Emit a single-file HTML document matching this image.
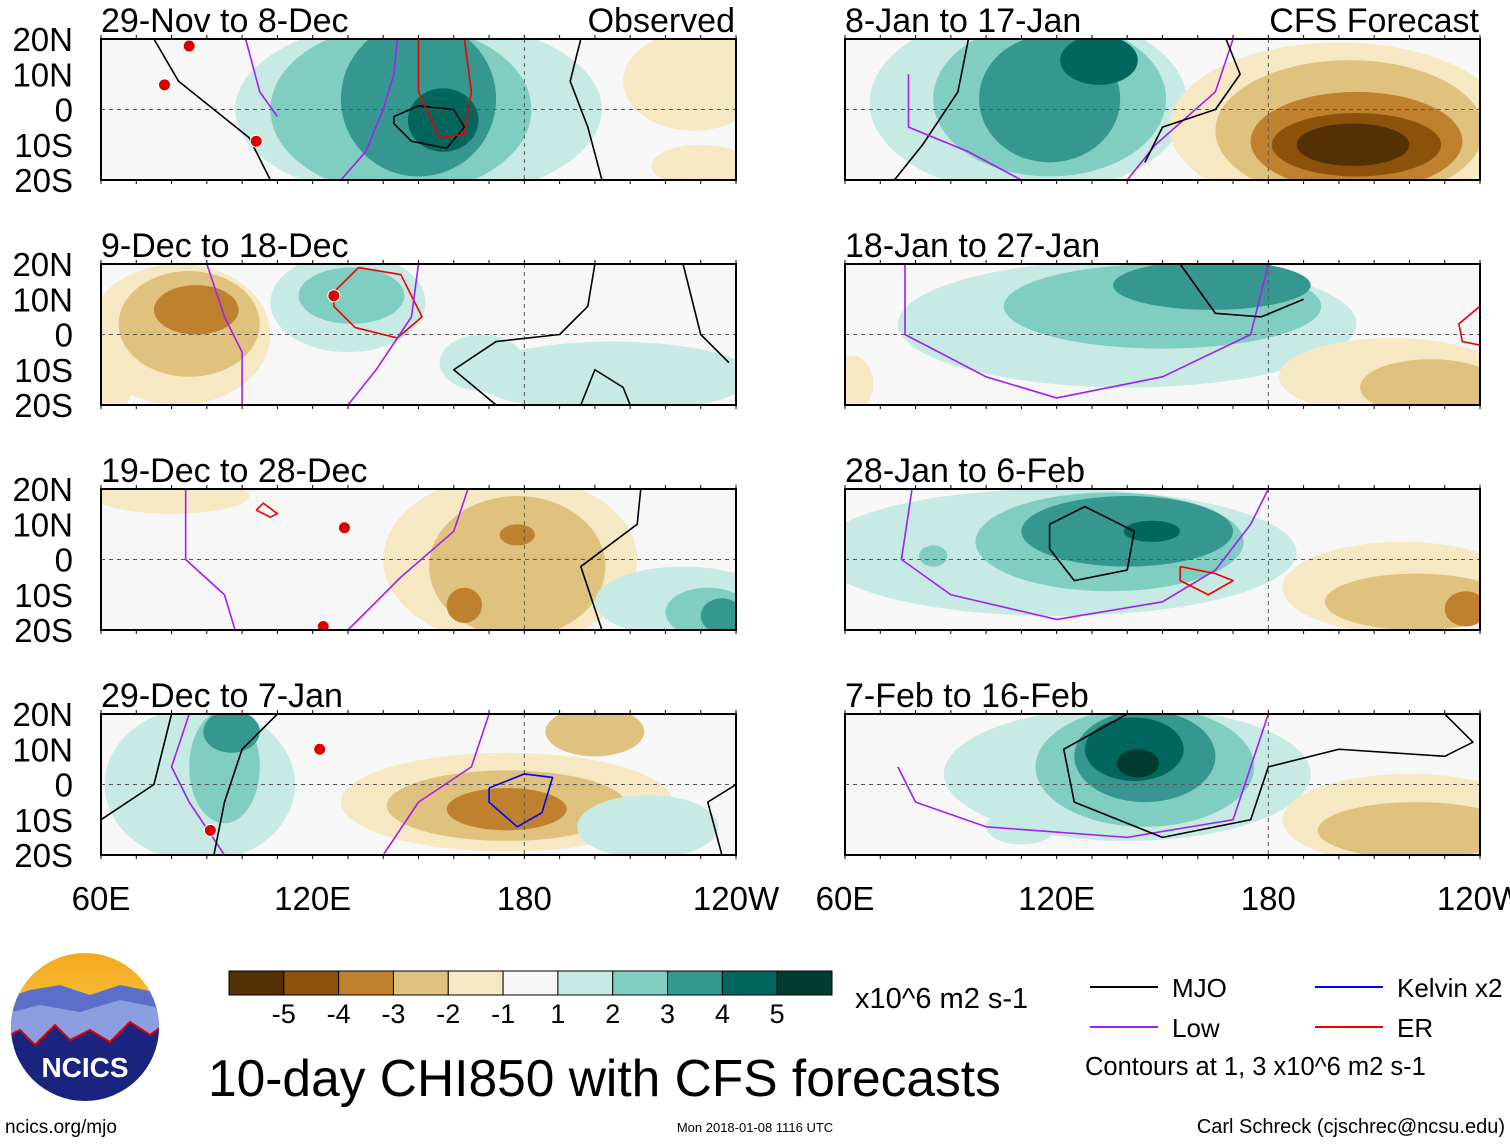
<!DOCTYPE html>
<html><head><meta charset="utf-8"><style>
body{margin:0;background:#fff;}
svg text{font-family:"Liberation Sans",sans-serif;}
</style></head><body>
<svg id="chart" width="1510" height="1142" viewBox="0 0 1510 1142" xmlns="http://www.w3.org/2000/svg">
<defs>
<linearGradient id="sky" x1="0" y1="0" x2="0" y2="1"><stop offset="0" stop-color="#f4a81c"/><stop offset="1" stop-color="#fde36a"/></linearGradient>
</defs>
<g id="panels"></g>
<g id="legend"></g>
</svg>
<script>
const NS='http://www.w3.org/2000/svg';
const panelTitles=['29-Nov to 8-Dec','8-Jan to 17-Jan','9-Dec to 18-Dec','18-Jan to 27-Jan','19-Dec to 28-Dec','28-Jan to 6-Feb','29-Dec to 7-Jan','7-Feb to 16-Feb'];
const levels=[-5,-4,-3,-2,-1,1,2,3,4,5];
const levelColors=['#543005','#8c510a','#bf812d','#dfc27d','#f6e8c3','#c7eae5','#80cdc1','#35978f','#01665e','#003c30'];
const latTicks=['20N','10N','0','10S','20S'];
const lonTicks=['60E','120E','180','120W'];
// blobs: [lon, lat, radiusLon, radiusLat, level]
const blobsP0=[[150,0,52,26,1],[145,0,37,24,2],[150,3,22,22,3],[157,-3,10,9,4],[228,8,20,14,-1],[230,-16,14,6,-1]];
const blobsP1=[[112,2,45,26,1],[118,3,33,22,2],[118,3,20,18,3],[132,14,11,7,4],[200,-5,48,24,-1],[203,-6,38,20,-2],[205,-9,30,14,-3],[205,-10,24,9,-4],[204,-10,16,6,-5]];
const blobsP2=[[82,0,26,20,-1],[85,3,20,15,-2],[87,7,12,7,-3],[130,9,22,14,1],[131,11,15,8,2],[205,-12,40,10,1],[168,-8,12,8,1],[63,-14,6,8,-1]];
const blobsP3=[[140,3,65,18,1],[150,8,45,12,2],[164,14,28,7,3],[215,-12,32,11,-1],[226,-15,20,8,-2],[62,-14,6,8,-1]];
const blobsP4=[[176,0,36,24,-1],[178,-2,25,20,-2],[178,7,5,3,-3],[163,-13,5,5,-3],[80,18,22,5,-1],[225,-12,25,10,1],[232,-15,12,7,2],[236,-16,6,5,3]];
const blobsP5=[[120,2,68,18,1],[135,5,38,14,2],[140,8,30,10,3],[147,8,8,3,4],[85,1,4,3,2],[218,-8,34,13,-1],[222,-12,26,8,-2],[236,-14,6,5,-3]];
const blobsP6=[[88,0,27,22,1],[95,5,10,16,2],[97,15,8,6,3],[95,0,4,3,2],[175,-5,47,14,-1],[175,-6,34,10,-2],[175,-7,17,6,-3],[200,15,14,7,-2],[215,-12,20,9,1]];
const blobsP7=[[140,3,52,19,1],[145,5,31,17,2],[145,8,20,13,3],[142,10,14,9,4],[143,6,6,4,5],[220,-10,36,13,-1],[222,-13,28,8,-2],[110,-12,10,5,1]];
const blobSets=[blobsP0,blobsP1,blobsP2,blobsP3,blobsP4,blobsP5,blobsP6,blobsP7];
// contour lines: [color, [[lon,lat],...]]
const linesP0=[['#000',[[75,20],[82,8],[92,0],[102,-8],[108,-20]]],['#000',[[143,-2],[150,1],[160,0],[163,-5],[158,-11],[148,-9],[143,-4],[143,-2]]],['#a020f0',[[144,20],[143,10],[140,0],[135,-12],[128,-20]]],['#a020f0',[[101,20],[105,5],[110,-2]]],['#e00',[[150,20],[150,5],[156,-8],[163,-7],[165,5],[163,20]]],['#000',[[196,20],[193,8],[198,-5],[202,-20]]]];
const linesP1=[['#000',[[95,20],[92,5],[82,-10],[74,-20]]],['#a020f0',[[78,10],[78,-5],[95,-12],[110,-20]]],['#a020f0',[[170,20],[165,5],[148,-10],[140,-20]]],['#000',[[168,20],[172,10],[165,0],[150,-5],[145,-15]]]];
const linesP2=[['#a020f0',[[90,20],[95,5],[100,-5],[100,-20]]],['#e00',[[126,12],[133,19],[145,17],[151,5],[144,-1],[132,2],[126,8],[126,12]]],['#a020f0',[[150,20],[148,5],[138,-10],[130,-20]]],['#000',[[200,20],[198,8],[190,0],[172,-2],[160,-10],[172,-20]]],['#000',[[196,-20],[200,-10],[208,-15],[210,-20]]],['#000',[[225,20],[230,0],[238,-8]]]];
const linesP3=[['#a020f0',[[77,20],[77,0],[100,-12],[120,-18],[150,-12],[175,0],[180,20]]],['#000',[[155,20],[165,6],[178,5],[190,10]]],['#e00',[[240,8],[234,3],[235,-2],[240,-3]]]];
const linesP4=[['#a020f0',[[84,20],[84,0],[95,-10],[98,-20]]],['#e00',[[104,14],[108,12],[110,13],[106,16],[104,14]]],['#a020f0',[[164,20],[160,8],[145,-5],[130,-20]]],['#000',[[213,20],[212,10],[196,-2],[202,-20]]]];
const linesP5=[['#a020f0',[[79,20],[76,0],[90,-10],[120,-17],[150,-12],[165,-3],[175,10],[180,20]]],['#000',[[118,10],[128,15],[142,8],[140,-3],[125,-6],[118,3],[118,10]]],['#e00',[[155,-2],[165,-4],[170,-6],[163,-10],[155,-6],[155,-2]]]];
const linesP6=[['#000',[[60,-10],[75,0],[80,20]]],['#a020f0',[[85,20],[80,5],[85,-5],[95,-20]]],['#000',[[92,-20],[95,-5],[100,10],[110,20]]],['#a020f0',[[170,20],[165,5],[150,-5],[140,-20]]],['#00f',[[170,-1],[180,3],[188,2],[185,-8],[178,-12],[170,-5],[170,-1]]],['#000',[[240,0],[232,-5],[236,-20]]]];
const linesP7=[['#a020f0',[[75,5],[80,-5],[100,-12],[140,-15],[170,-10],[175,5],[180,20]]],['#000',[[140,20],[122,10],[125,-5],[150,-15],[175,-10],[180,5],[200,10],[230,8],[238,12],[230,20]]]];
const lineSets=[linesP0,linesP1,linesP2,linesP3,linesP4,linesP5,linesP6,linesP7];
// tropical cyclone markers [lon,lat]
const tcMarks=[[[85,18],[78,7],[104,-9]],[],[[126,11]],[],[[129,9],[123,-19]],[],[[91,-13],[122,10]],[]];

const PW=635,PH=141;
const colX=[101,845], rowY=[39,264,489,714];
function mk(tag,attrs,parent){const e=document.createElementNS(NS,tag);for(const k in attrs)e.setAttribute(k,attrs[k]);if(parent)parent.appendChild(e);return e;}
function colorFor(l){return levelColors[levels.indexOf(l)];}
const root=document.getElementById('panels');
for(let p=0;p<8;p++){
  const x0=colX[p%2], y0=rowY[Math.floor(p/2)];
  const xs=lon=>x0+(lon-60)/180*PW;
  const ys=lat=>y0+(20-lat)/40*PH;
  const g=mk('g',{},root);
  
  
  const cp=mk('clipPath',{id:'cp'+p},g);mk('rect',{x:x0,y:y0,width:PW,height:PH},cp);
  mk('rect',{x:x0,y:y0,width:PW,height:PH,fill:'#f7f7f7'},g);
  const fg=mk('g',{'clip-path':'url(#cp'+p+')'},g);
  blobSets[p].forEach(b=>{
    const e=mk('ellipse',{cx:xs(b[0]),cy:ys(b[1]),rx:b[2]/180*PW,ry:b[3]/40*PH,fill:colorFor(b[4])},fg);
    
    
  });
  mk('line',{x1:x0,y1:ys(0),x2:x0+PW,y2:ys(0),stroke:'#555','stroke-dasharray':'4,4','stroke-width':1},fg);
  mk('line',{x1:xs(180),y1:y0,x2:xs(180),y2:y0+PH,stroke:'#555','stroke-dasharray':'4,4','stroke-width':1},fg);
  lineSets[p].forEach(l=>{
    const pl=mk('polyline',{points:l[1].map(q=>xs(q[0])+','+ys(q[1])).join(' '),fill:'none',stroke:l[0],'stroke-width':1.6,'stroke-linejoin':'round'},fg);
    
    
  });
  tcMarks[p].forEach(t=>{
    const c=mk('circle',{cx:xs(t[0]),cy:ys(t[1]),r:6,fill:'#d00',stroke:'#fff','stroke-width':1},fg);
    
    
  });
  mk('rect',{x:x0,y:y0,width:PW,height:PH,fill:'none',stroke:'#000','stroke-width':2},g);
  for(let lon=60;lon<=240;lon+=10){mk('line',{x1:xs(lon),y1:y0,x2:xs(lon),y2:y0-4,stroke:'#000'},g);mk('line',{x1:xs(lon),y1:y0+PH,x2:xs(lon),y2:y0+PH+4,stroke:'#000'},g);}
  const t=mk('text',{x:x0,y:y0-7,'font-size':34},g);t.textContent=panelTitles[p];
  
  
  if(p===0||p===1){const r=mk('text',{x:x0+PW-1,y:y0-7,'font-size':34,'text-anchor':'end'},g);r.textContent=p===0?'Observed':'CFS Forecast';
    
    }
  if(p%2===0){latTicks.forEach((s,i)=>{const tt=mk('text',{x:73,y:y0+i*PH/4+12,'font-size':33,'text-anchor':'end'},g);tt.textContent=s;
    
    });}
  if(p>=6){lonTicks.forEach((s,i)=>{const tt=mk('text',{x:x0+i*PW/3,y:910,'font-size':33,'text-anchor':'middle'},g);tt.textContent=s;
    
    });}
}
// legend / colorbar
const lg=document.getElementById('legend');
const cbX=229,cbW=603/11;
const cbColors=['#543005','#8c510a','#bf812d','#dfc27d','#f6e8c3','#f7f7f7','#c7eae5','#80cdc1','#35978f','#01665e','#003c30'];
cbColors.forEach((c,i)=>{const r=mk('rect',{x:cbX+i*cbW,y:971,width:cbW,height:24,fill:c,stroke:'#000','stroke-width':1},lg);
  
  });
levels.forEach((l,i)=>{const t=mk('text',{x:cbX+(i+1)*cbW,y:1023,'font-size':27,'text-anchor':'middle'},lg);t.textContent=l;
  
  });
function txt(x,y,s,fs,name,anchor){const t=mk('text',{x:x,y:y,'font-size':fs,'text-anchor':anchor||'start'},lg);t.textContent=s;return t;}
txt(855,1008,'x10^6 m2 s-1',29,'colorbar-units');
txt(208,1096,'10-day CHI850 with CFS forecasts',51.5,'chart-title');
txt(5,1133,'ncics.org/mjo',19,'site-url');
txt(755,1132,'Mon 2018-01-08 1116 UTC',13,'timestamp','middle');
txt(1505,1133,'Carl Schreck (cjschrec@ncsu.edu)',20,'author-credit','end');
const legItems=[['#000','MJO',1090,987],['#00f','Kelvin x2',1315,987],['#a020f0','Low',1090,1027],['#e00','ER',1315,1027]];
legItems.forEach(it=>{mk('line',{x1:it[2],y1:it[3],x2:it[2]+68,y2:it[3],stroke:it[0],'stroke-width':2},lg);txt(it[2]+82,it[3]+10,it[1],26,'legend-entry');});
txt(1085,1075,'Contours at 1, 3 x10^6 m2 s-1',25.5,'contour-note');
// logo
const logo=mk('g',{},lg);
const lcp=mk('clipPath',{id:'logoclip'},logo);mk('circle',{cx:85,cy:1027,r:74},lcp);
const lgg=mk('g',{'clip-path':'url(#logoclip)'},logo);
mk('rect',{x:0,y:950,width:170,height:160,fill:'url(#sky)'},lgg);
mk('path',{d:'M0 1000 L30 990 L60 985 L90 995 L120 985 L170 995 L170 1060 L0 1060Z',fill:'#5b6ec8'},lgg);
mk('path',{d:'M0 1015 L40 1005 L80 1012 L120 1000 L170 1010 L170 1060 L0 1060Z',fill:'#8b9ee0'},lgg);
mk('path',{d:'M0 1040 L20 1030 L35 1045 L55 1025 L70 1040 L90 1030 L110 1042 L130 1022 L150 1035 L170 1020 L170 1110 L0 1110Z',fill:'#1a237e',stroke:'#d00','stroke-width':2},lgg);
const lt=txt(85,1077,'NCICS',28,'logo-text','middle');lt.setAttribute('fill','#fff');lt.setAttribute('font-weight','bold');
</script>
</body></html>
